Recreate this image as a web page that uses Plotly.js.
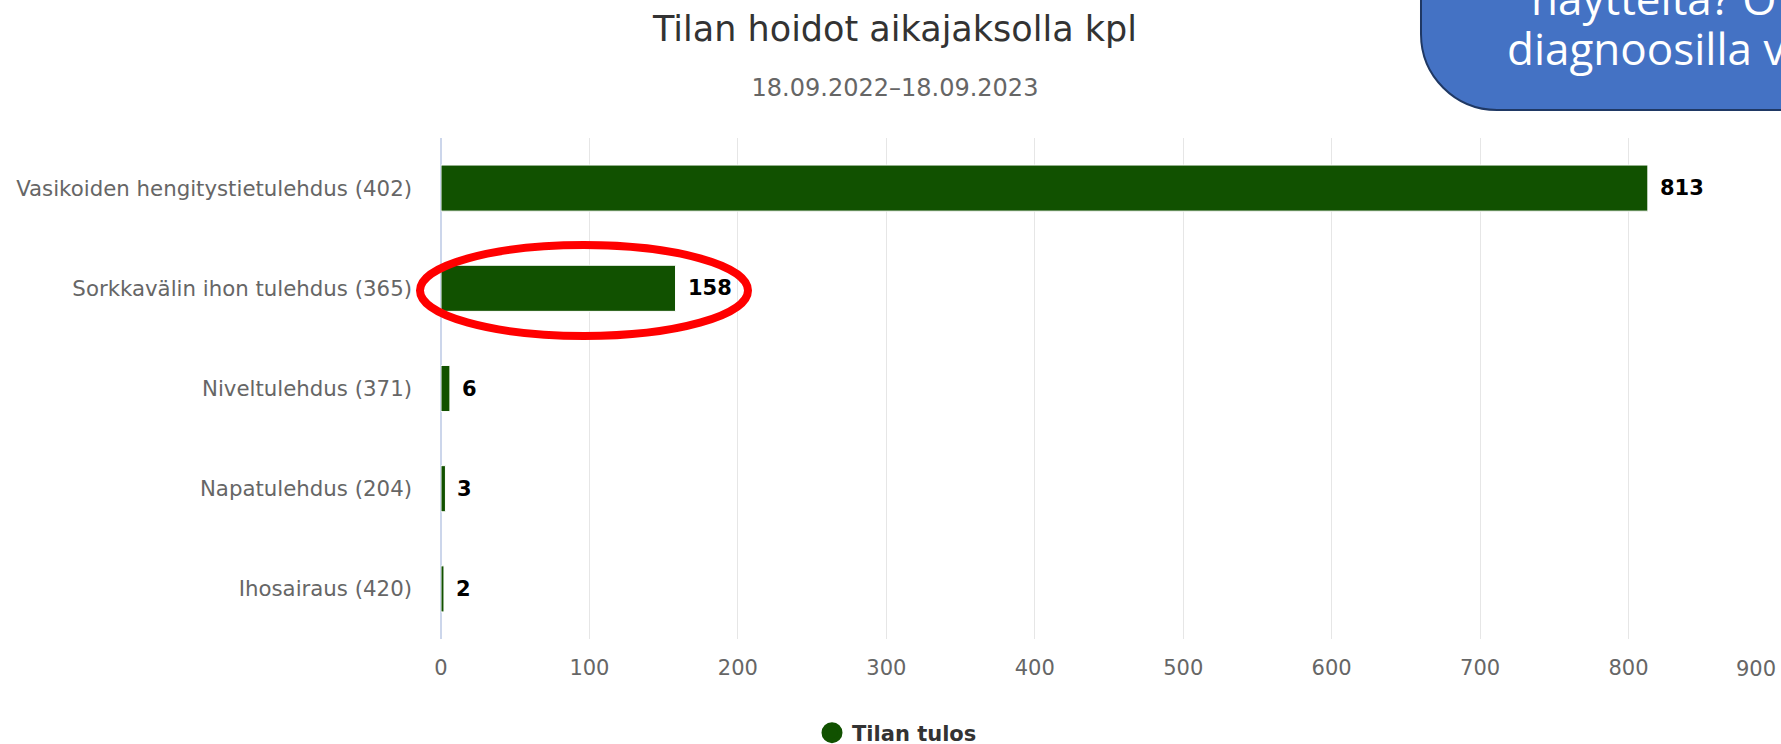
<!DOCTYPE html>
<html>
<head>
<meta charset="utf-8">
<script src="https://cdn.plot.ly/plotly-3.0.1.min.js"></script>
<style>
  html, body { margin: 0; padding: 0; background: #ffffff; }
  #chart { width: 1781px; height: 744px; }
</style>
</head>
<body>
<div id="chart"></div>
<script>
// ---- data ----
const categories = [
  "Vasikoiden hengitystietulehdus (402)",
  "Sorkkavälin ihon tulehdus (365)",
  "Niveltulehdus (371)",
  "Napatulehdus (204)",
  "Ihosairaus (420)"
];
const values = [813, 158, 6, 3, 2];
const xTickValues = [0, 100, 200, 300, 400, 500, 600, 700, 800, 900];
const seriesName = "Tilan tulos";
const chartTitle = "Tilan hoidot aikajaksolla kpl";
const chartSubtitle = "18.09.2022–18.09.2023";
const calloutLines = ["näytteitä? O", "diagnoosilla v"];

// ---- layout helpers (pixel -> paper) ----
const W = 1781, H = 744;
const M = { l: 441, r: 4, t: 138, b: 105 };
const PW = W - M.l - M.r, PH = H - M.t - M.b;
const px = x => (x - M.l) / PW;
const py = y => (H - M.b - y) / PH;

const FONT = "DejaVu Sans, Verdana, sans-serif";
const GREEN = "#115100";
const TICKFONT = { family: FONT, size: 21, color: "#666666" };

// rounded callout box (bottom-left corner rounded)
function calloutPath() {
  const x0 = 1421, yb = 110, r = 76, k = 0.5523, xr = 1950, yt = -60;
  const pts = [
    ["M", [x0, yt]],
    ["L", [x0, yb - r]],
    ["C", [x0, yb - r + k * r], [x0 + r - k * r, yb], [x0 + r, yb]],
    ["L", [xr, yb]],
    ["L", [xr, yt]]
  ];
  let s = "";
  pts.forEach(p => {
    s += p[0] + " " + p.slice(1).map(q => px(q[0]).toFixed(5) + "," + py(q[1]).toFixed(5)).join(" ") + " ";
  });
  return s + "Z";
}

const traces = [
  {
    type: "bar",
    orientation: "h",
    x: values,
    y: categories,
    width: 0.46,
    marker: { color: GREEN, line: { color: "#ffffff", width: 1 } },
    showlegend: false,
    hoverinfo: "x+y"
  },
  {
    type: "scatter",
    mode: "markers",
    x: [null],
    y: [null],
    name: seriesName,
    marker: { color: GREEN, size: 16, symbol: "circle", line: { color: GREEN, width: 5 } },
    showlegend: true,
    hoverinfo: "skip"
  }
];

const valueLabels = values.map((v, i) => ({
  x: v,
  y: categories[i],
  xref: "x",
  yref: "y",
  text: String(v),
  showarrow: false,
  xanchor: "left",
  yanchor: "middle",
  xshift: 10,
  font: { family: FONT, size: 21, color: "#000000", weight: "bold" }
}));

// the last tick label is kept inside the page (right-aligned to its gridline)
const lastTick = xTickValues[xTickValues.length - 1];
const lastTickLabel = {
  x: lastTick,
  xref: "x",
  y: py(669),
  yref: "paper",
  text: String(lastTick),
  showarrow: false,
  xanchor: "right",
  yanchor: "middle",
  xshift: 1,
  font: TICKFONT
};

const calloutAnnots = [
  { x: px(1529), y: py(-2), text: calloutLines[0] },
  { x: px(1505), y: py(48), text: calloutLines[1] }
].map(a => Object.assign({
  xref: "paper", yref: "paper", showarrow: false,
  xanchor: "left", yanchor: "middle",
  font: { family: "Open Sans, sans-serif", size: 44, color: "#ffffff" }
}, a));

const layout = {
  width: W,
  height: H,
  margin: Object.assign({ autoexpand: false }, M),
  paper_bgcolor: "#ffffff",
  plot_bgcolor: "#ffffff",
  font: { family: FONT, color: "#666666" },
  title: {
    text: chartTitle,
    xref: "container",
    yref: "container",
    x: 895 / W,
    xanchor: "center",
    y: 1 - 29 / H,
    yanchor: "middle",
    font: { family: FONT, size: 35, color: "#333333" },
    subtitle: {
      text: chartSubtitle,
      font: { family: FONT, size: 24, color: "#666666" }
    }
  },
  xaxis: {
    range: [0, 900],
    tickvals: xTickValues,
    ticktext: xTickValues.map(v => (v === lastTick ? "" : String(v))),
    showgrid: true,
    gridcolor: "#e6e6e6",
    gridwidth: 1,
    zeroline: true,
    zerolinecolor: "#ccd6eb",
    zerolinewidth: 2,
    showline: false,
    ticks: "",
    ticklabelstandoff: 14,
    tickfont: TICKFONT,
    automargin: false,
    fixedrange: true
  },
  yaxis: {
    type: "category",
    categoryorder: "array",
    categoryarray: categories,
    autorange: "reversed",
    showgrid: false,
    zeroline: false,
    showline: false,
    ticks: "",
    ticklabelstandoff: 28,
    tickfont: { family: FONT, size: 21.3, color: "#666666" },
    automargin: false,
    fixedrange: true
  },
  showlegend: true,
  legend: {
    orientation: "h",
    x: px(812),
    xanchor: "left",
    y: py(733),
    yanchor: "middle",
    bgcolor: "rgba(0,0,0,0)",
    font: { family: FONT, size: 21, color: "#333333", weight: "bold" }
  },
  shapes: [
    {
      type: "circle",
      xref: "paper",
      yref: "paper",
      x0: px(420),
      x1: px(748),
      y0: py(245),
      y1: py(336),
      line: { color: "#ff0000", width: 8 },
      fillcolor: "rgba(0,0,0,0)"
    },
    {
      type: "path",
      xref: "paper",
      yref: "paper",
      path: calloutPath(),
      fillcolor: "#4472c4",
      line: { color: "#1f3864", width: 2 }
    }
  ],
  annotations: valueLabels.concat([lastTickLabel], calloutAnnots)
};

Plotly.newPlot("chart", traces, layout, { displayModeBar: false, responsive: false });
</script>
</body>
</html>
